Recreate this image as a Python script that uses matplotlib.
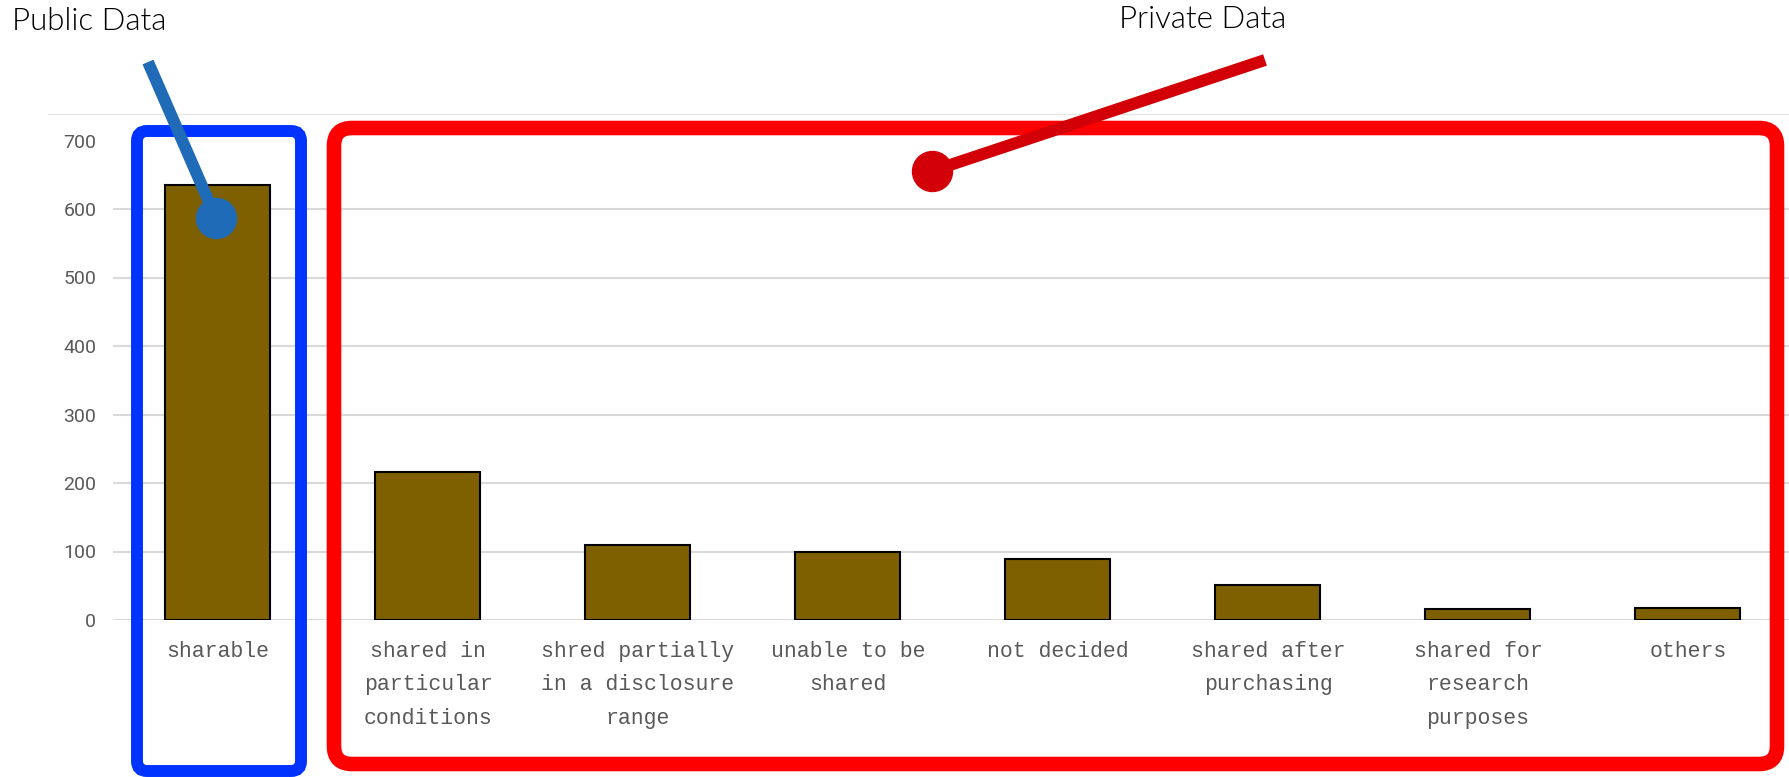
import matplotlib
matplotlib.use("Agg")
import matplotlib.pyplot as plt
from matplotlib.patches import FancyBboxPatch

# data
categories = [
    "sharable",
    "shared in\nparticular\nconditions",
    "shred partially\nin a disclosure\nrange",
    "unable to be\nshared",
    "not decided",
    "shared after\npurchasing",
    "shared for\nresearch\npurposes",
    "others",
]
counts = [635, 216, 109, 100, 89, 51, 16, 18]
yticks = [0, 100, 200, 300, 400, 500, 600, 700]

BAR = "#7f6000"
GRID = "#d9d9d9"
LABEL = "#595959"
BOX_BLUE = "#0033ff"
BOX_RED = "#ff0000"
PIN_BLUE = "#1f6bb8"
PIN_RED = "#d40008"

W, H = 1790, 777
fig = plt.figure(figsize=(W / 100, H / 100), dpi=100)
fig.patch.set_facecolor("white")

# main bar axes
ax = fig.add_axes([113 / W, (H - 620) / H, 1680 / W, (620 - 140.5) / H])
x = range(len(categories))
ax.bar(x, counts, width=0.5, color=BAR, edgecolor="black", linewidth=1.5, zorder=3)
ax.set_xlim(-0.5, len(categories) - 0.5)
ax.set_ylim(0, 700)
ax.set_yticks(yticks)
ax.set_yticklabels([str(v) for v in yticks], fontsize=14, color=LABEL,
                   fontfamily="Roboto")
ax.set_xticks(list(x))
ax.set_xticklabels(categories, fontsize=15.5, color=LABEL,
                   fontfamily="Liberation Mono", linespacing=1.78)
ax.tick_params(axis="both", length=0)
ax.tick_params(axis="y", pad=12)
ax.tick_params(axis="x", pad=15)
ax.yaxis.grid(True, color=GRID, linewidth=1.5, zorder=0)
ax.set_axisbelow(True)
for s in ax.spines.values():
    s.set_visible(False)

# overlay in pixel units for the callouts
ov = fig.add_axes([0, 0, 1, 1], zorder=5)
ov.set_xlim(0, W)
ov.set_ylim(H, 0)
ov.axis("off")
ov.patch.set_alpha(0)

ov.plot([48, W], [114, 114], color="#e6e6e6", linewidth=1)

ov.add_patch(FancyBboxPatch((137, 131), 164, 640,
                            boxstyle="round,pad=0,rounding_size=10",
                            fill=False, edgecolor=BOX_BLUE, linewidth=8.6))
ov.add_patch(FancyBboxPatch((334, 128), 1443, 636,
                            boxstyle="round,pad=0,rounding_size=18",
                            fill=False, edgecolor=BOX_RED, linewidth=10.5))

ov.plot([148, 216], [62, 218], color=PIN_BLUE, linewidth=8.6, solid_capstyle="butt")
ov.plot([216], [218], "o", color=PIN_BLUE, markersize=28.8)
ov.plot([1265, 932], [60, 171], color=PIN_RED, linewidth=8.6, solid_capstyle="butt")
ov.plot([932], [171], "o", color=PIN_RED, markersize=28.8)

ov.text(12, 21, "Public Data", fontsize=22.5, fontfamily="Lato",
        fontweight=300, ha="left", va="center", color="#000000")
ov.text(1203, 20, "Private Data", fontsize=22.5, fontfamily="Lato",
        fontweight=300, ha="center", va="center", color="#000000")

fig.savefig("out.png", dpi=100)
